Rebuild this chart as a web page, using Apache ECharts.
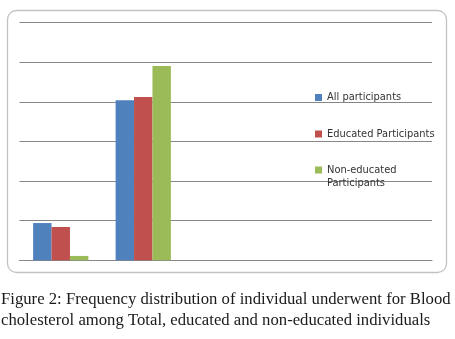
<!DOCTYPE html>
<html>
<head>
  <meta charset="utf-8">
  <title>Figure 2</title>
  <script src="https://cdn.jsdelivr.net/npm/echarts@6/dist/echarts.min.js"></script>
  <style>
    body { margin: 0; background: #fff; }
  </style>
</head>
<body>
<div id="main" style="width: 455px; height: 339px"></div>
<script type="text/javascript">
// data (no axis labels in the original)
var categories = ['1', '2', '3', '4', '5'];
var allParticipants = [9.4, 40.4, null, null, null];
var educated = [8.4, 41.2, null, null, null];
var nonEducated = [1.1, 49.0, null, null, null];
var seriesNames = ['All participants', 'Educated Participants', 'Non-educated Participants'];
var colors = ['#4F81BD', '#C0504D', '#9BBB59'];

var myChart = echarts.init(document.getElementById('main'));

var legendText = { color: '#333', fontFamily: 'DejaVu Sans', fontSize: 9.9, lineHeight: 13 };

function makeLegend(name, top) {
  return {
    data: [name],
    orient: 'vertical',
    left: 315,
    top: top,
    padding: 0,
    itemWidth: 7,
    itemHeight: 7,
    itemGap: 0,
    icon: 'rect',
    selectedMode: false,
    // blank first line keeps the marker level with "Non-educated"
    formatter: function (n) {
      return n === 'Non-educated Participants' ? ' \nNon-educated\nParticipants' : n;
    },
    textStyle: legendText
  };
}

myChart.setOption({
  animation: false,
  color: colors,
  graphic: [
    {
      type: 'rect',
      shape: { x: 7.5, y: 10.5, width: 439, height: 262, r: 9 },
      style: { fill: 'none', stroke: '#c2c2c2', lineWidth: 1.3 },
      z: -1
    },
    {
      type: 'text',
      left: 1,
      top: 289,
      style: {
        text: 'Figure 2: Frequency distribution of individual underwent for Blood\ncholesterol among Total, educated and non-educated individuals',
        fontFamily: 'Liberation Serif',
        fontSize: 16.7,
        lineHeight: 21,
        fill: '#1a1a1a'
      }
    }
  ],
  legend: [
    makeLegend(seriesNames[0], 91),
    makeLegend(seriesNames[1], 127.5),
    makeLegend(seriesNames[2], 150.5)
  ],
  grid: { left: 19.5, right: 23, top: 22.5, bottom: 78.7 },
  xAxis: {
    type: 'category',
    data: categories,
    axisLine: { lineStyle: { color: '#878787', width: 1 } },
    axisTick: { show: false },
    axisLabel: { show: false }
  },
  yAxis: {
    type: 'value',
    min: 0,
    max: 60,
    interval: 10,
    axisLine: { show: false },
    axisTick: { show: false },
    axisLabel: { show: false },
    splitLine: { lineStyle: { color: '#878787', width: 1 } }
  },
  series: [
    { name: seriesNames[0], type: 'bar', data: allParticipants, barGap: '0%', barCategoryGap: '33%' },
    { name: seriesNames[1], type: 'bar', data: educated, barGap: '0%', barCategoryGap: '33%' },
    { name: seriesNames[2], type: 'bar', data: nonEducated, barGap: '0%', barCategoryGap: '33%' }
  ]
});
</script>
</body>
</html>
